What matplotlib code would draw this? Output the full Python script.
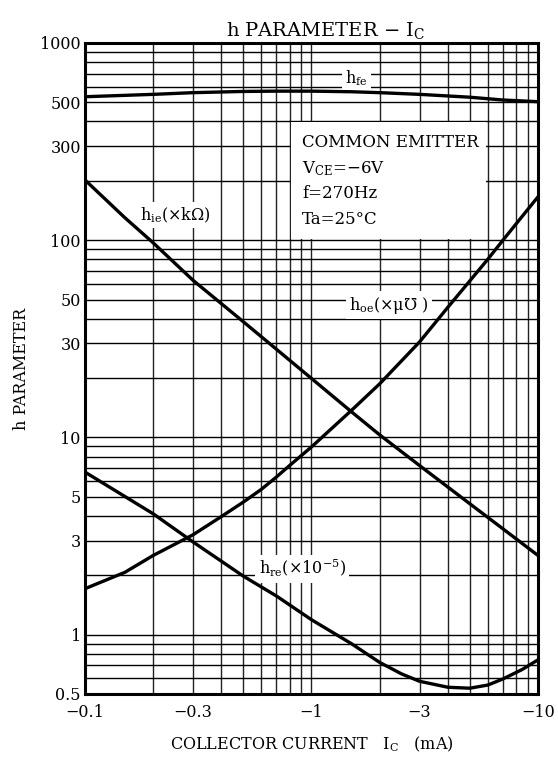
import matplotlib
matplotlib.use("Agg")
import matplotlib.pyplot as plt
from matplotlib.patches import Rectangle
from matplotlib.ticker import NullFormatter

plt.rcParams['font.family'] = ['DejaVu Serif', 'DejaVu Sans']
plt.rcParams['mathtext.fontset'] = 'dejavuserif'

# ---- data ----
ic_hfe = [0.1, 0.2, 0.3, 0.5, 0.7, 1, 1.5, 2, 3, 5, 7, 10]
hfe = [534, 549, 560, 568, 570, 570, 566, 560, 549, 531, 514, 504]

ic_hie = [0.1, 0.15, 0.2, 0.3, 0.5, 0.7, 1, 1.5, 2, 3, 5, 7, 10]
hie = [202, 130, 97, 62.6, 38.6, 28.0, 19.9, 13.5, 10.3, 7.2, 4.61, 3.44, 2.52]

ic_hoe = [0.1, 0.15, 0.2, 0.3, 0.4, 0.5, 0.6, 0.7, 0.8, 1, 1.5, 2, 3, 4, 6, 7, 10]
hoe = [1.71, 2.07, 2.52, 3.21, 3.97, 4.7, 5.45, 6.3, 7.2, 8.95, 13.7, 18.7, 30.5, 45.7, 80, 100, 166]

ic_hre = [0.1, 0.2, 0.3, 0.5, 0.7, 1, 1.5, 2, 2.5, 3, 4, 5, 6, 7, 8.5, 10]
hre = [6.67, 4.1, 2.95, 1.98, 1.57, 1.19, 0.9, 0.723, 0.632, 0.58, 0.541, 0.535, 0.555, 0.596, 0.665, 0.745]

x_ticks = [0.1, 0.3, 1, 3, 10]
x_ticklabels = ['\u22120.1', '\u22120.3', '\u22121', '\u22123', '\u221210']
y_ticks = [0.5, 1, 3, 5, 10, 30, 50, 100, 300, 500, 1000]
y_ticklabels = ['0.5', '1', '3', '5', '10', '30', '50', '100', '300', '500', '1000']

# ---- figure ----
fig = plt.figure(figsize=(5.58, 7.60), dpi=100)
ax = fig.add_axes([85/558, 66/760, 453/558, 651/760])
ax.set_xscale('log')
ax.set_yscale('log')
ax.set_xlim(0.1, 10)
ax.set_ylim(0.5, 1000)

# grid lines
xminor = [m * d for d in (0.1, 1) for m in range(1, 10)] + [10]
yminor = [m * d for d in (0.1, 1, 10, 100) for m in range(1, 10)] + [1000]
for xv in xminor:
    ax.axvline(xv, color='#222222', lw=1.0, zorder=1)
for yv in yminor:
    if 0.5 <= yv <= 1000:
        ax.axhline(yv, color='black', lw=1.0, zorder=1)

# white condition box
ax.add_patch(Rectangle((0.815, 101), 5.9 - 0.815, 397 - 101, facecolor='white',
                       edgecolor='none', zorder=2))

# curves
for xs, ys in ((ic_hfe, hfe), (ic_hie, hie), (ic_hoe, hoe), (ic_hre, hre)):
    ax.plot(xs, ys, color='black', lw=2.4, zorder=4, solid_capstyle='butt',
            solid_joinstyle='round')

# curve labels
bb = dict(facecolor='white', edgecolor='none', pad=2.5)
ax.text(1.58, 664, r'h$_{\rm fe}$', ha='center', va='center', fontsize=11.5, bbox=bb, zorder=3)
ax.text(0.25, 134, r'h$_{\rm ie}$(×k$\Omega$)', ha='center', va='center', fontsize=11.5, bbox=bb, zorder=3)
ax.text(2.2, 46.8, 'h$_{\\rm oe}$(×\u03bc\u2127 )', ha='center', va='center', fontsize=11.5, bbox=bb, zorder=3)
ax.text(0.91, 2.16, r'h$_{\rm re}$(×10$^{-5}$)', ha='center', va='center', fontsize=11.5, bbox=bb, zorder=3)

# condition text
tx = (302 - 85) / 453
fs_box = 12
ax.text(tx, (694 - 143) / 651, 'COMMON EMITTER', transform=ax.transAxes, ha='left', va='center', fontsize=fs_box, zorder=3)
ax.text(tx, (694 - 169) / 651, 'V$_{\\rm CE}$=\u22126V', transform=ax.transAxes, ha='left', va='center', fontsize=fs_box, zorder=3)
ax.text(tx, (694 - 194) / 651, 'f=270Hz', transform=ax.transAxes, ha='left', va='center', fontsize=fs_box, zorder=3)
ax.text(tx, (694 - 219) / 651, 'Ta=25°C', transform=ax.transAxes, ha='left', va='center', fontsize=fs_box, zorder=3)

# ticks
ax.set_xticks(x_ticks)
ax.set_xticklabels(x_ticklabels)
ax.xaxis.set_minor_formatter(NullFormatter())
ax.set_yticks(y_ticks)
ax.set_yticklabels(y_ticklabels)
ax.yaxis.set_minor_formatter(NullFormatter())
ax.tick_params(which='both', length=0, labelsize=11.5)
ax.tick_params(axis='x', pad=7)
ax.tick_params(axis='y', pad=3)

for s in ax.spines.values():
    s.set_linewidth(2.2)
    s.set_zorder(5)

ax.set_title('h PARAMETER \u2212 I$_{\\rm C}$', fontsize=14, pad=5, x=(326 - 85) / 453)
ax.set_xlabel('COLLECTOR CURRENT   I$_{\\rm C}$   (mA)', fontsize=11.5, labelpad=10)
ax.set_ylabel('h PARAMETER', fontsize=11.5, labelpad=7)

fig.savefig('out.png', dpi=100)
